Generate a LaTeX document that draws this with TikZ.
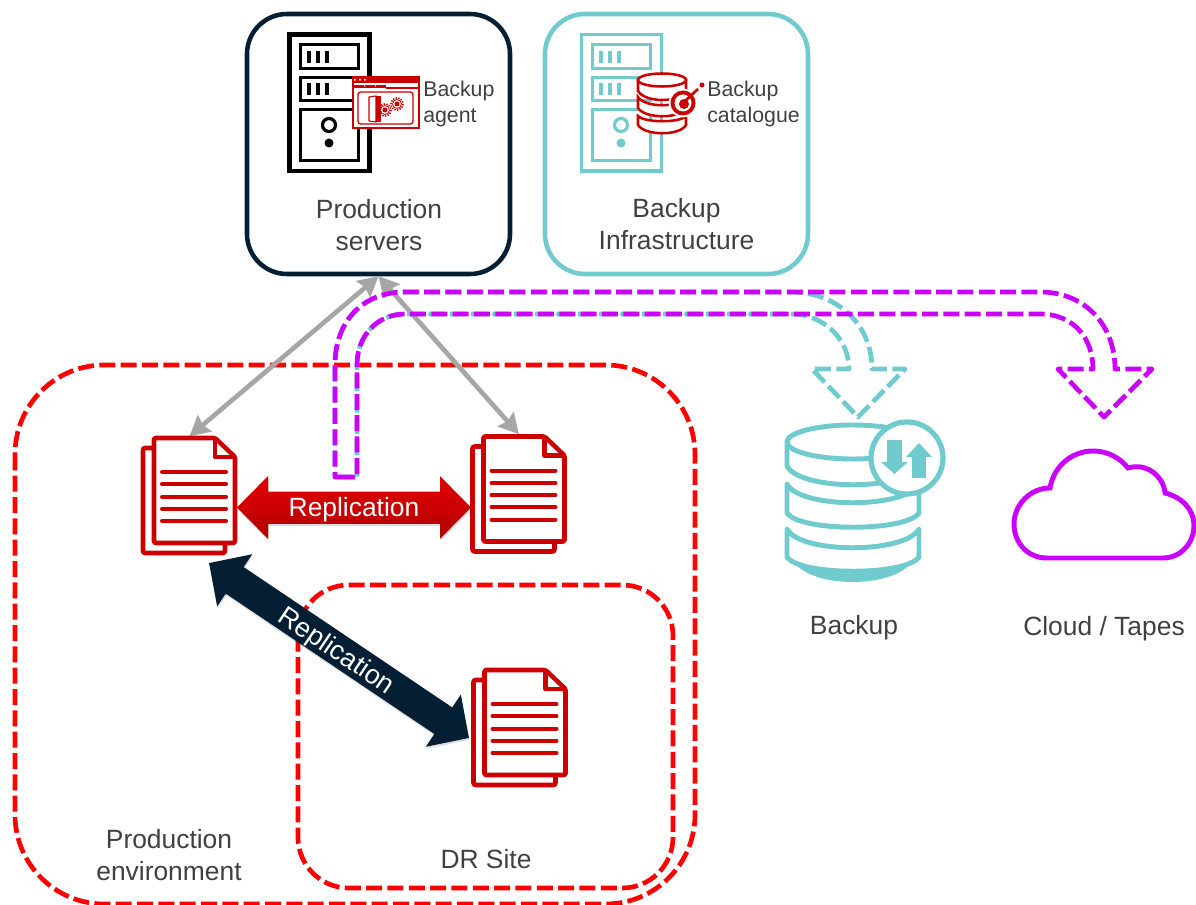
\documentclass[tikz,border=0pt]{standalone}
\usepackage{fontspec}
\setmainfont{Liberation Sans}
\usetikzlibrary{arrows.meta,calc}
\definecolor{navyc}{HTML}{041E33}
\definecolor{tealc}{HTML}{70CBCE}
\definecolor{docred}{HTML}{CC0000}
\definecolor{dashred}{HTML}{FF0000}
\definecolor{purp}{HTML}{CC00FF}
\definecolor{txt}{HTML}{404040}
\definecolor{grayarrow}{HTML}{A6A6A6}
\tikzset{
  bigtext/.style={font=\fontsize{19.8}{24}\selectfont,text=txt,align=center,inner sep=0pt},
  smalltext/.style={font=\fontsize{16}{19.5}\selectfont,text=txt,align=left,inner sep=0pt,anchor=west},
  roundbox/.style={rectangle,rounded corners=30pt,line width=3.4pt,minimum width=197.25pt,minimum height=195pt,inner sep=0pt},
  zone/.style={draw=dashred,line width=3.5pt,dash pattern=on 12pt off 4pt},
  dualarrow/.style={grayarrow,line width=3.5pt,{Stealth[length=15pt,width=16pt,inset=2pt]}-{Stealth[length=15pt,width=16pt,inset=2pt]}},
  hollow/.style={line width=3.5pt,dash pattern=on 12pt off 4pt,line join=round},
  docnode/.style={rectangle,inner sep=0pt,minimum width=71.25pt,minimum height=88.5pt},
  docline/.style={docred,line width=3.4pt,line cap=round,line join=round},
  doctext/.style={docred,line width=3pt,line cap=round},
  blocktips/.style={line width=24pt,{Triangle[length=23.25pt,width=45.75pt]}-{Triangle[length=23.25pt,width=45.75pt]}},
  shadowline/.style={black,opacity=.13},
}
% name, x, y of the front page's top left corner
\newcommand{\docicon}[3]{%
  \begin{scope}[shift={(#2,#3)}]
    \draw[docline,rounded corners=1.5pt] (2,12) -- (-9,12) -- (-9,117) -- (73,117) -- (73,106);
    \draw[docline,fill=white,rounded corners=1pt] (2,2) -- (63,2) -- (83,21) -- (83,107) -- (2,107) -- cycle;
    \draw[docline,line cap=butt] (63,2) -- (63,21) -- (83,21);
    \foreach \yy in {36,48.3,60.7,72.7,85} \draw[doctext] (10,\yy) -- (74,\yy);
  \end{scope}}
% colour, outer line width, x shift
\newcommand{\servericon}[3]{%
  \begin{scope}[shift={(#3,0)},#1]
    \draw[fill=white,line width=#2] (289.5,34.5) rectangle (369.5,171);
    \draw[line width=2.4pt] (300.6,44.6) rectangle (358.4,68.4);
    \draw[line width=2.4pt] (300.6,77.6) rectangle (358.4,100.4);
    \draw[line width=2.4pt] (300.6,109.6) rectangle (358.4,160.4);
    \foreach \xx in {307,316,325} {
      \fill (\xx,51) rectangle ++(4.3,12);
      \fill (\xx,83) rectangle ++(4.3,12);
    }
    \draw[line width=2.4pt] (329,125) circle[radius=6.5];
    \fill (329,143) circle[radius=4.5];
  \end{scope}}
\begin{document}
\begin{tikzpicture}[x=0.75pt,y=-0.75pt]
\useasboundingbox (0,0) rectangle (1196,905);

% top boxes
\node[roundbox,draw=navyc] (prod) at (378.5,144) {};
\node[roundbox,draw=tealc] (infra) at (676.5,144) {};
\servericon{black}{3.5pt}{0}
\servericon{tealc}{2.8pt}{292}

% backup agent window
\node[rectangle,inner sep=0pt,minimum width=50pt,minimum height=38.5pt,fill=white,draw=docred,line width=1.5pt] (agent) at (386,102.5) {};
\fill[docred] (352,76) rectangle (420,83);
\fill[white] (355,79.7) circle[radius=1.1] (360,79.7) circle[radius=1.1] (365,79.7) circle[radius=1.1];
\fill[docred] (354,85) rectangle (386,88);
\fill[white] (364,85) rectangle (365,86.5) (375,85) rectangle (376,86.5);
\draw[docred,line width=.8pt] (386,88) -- (418,88);
\draw[docred,line width=1pt,rounded corners=2pt] (358,92) rectangle (413,124);
\draw[docred,line width=.8pt] (369,97) -- (376,96) -- (376,122) -- (369,121) -- cycle;
\fill[docred] (376,96) rectangle (381,122);
\foreach \gx/\gy in {385/110,397/104} {
  \draw[docred,line width=.6pt] (\gx,\gy) circle[radius=4.5];
  \draw[docred,line width=1.2pt,dash pattern=on 1pt off 1pt] (\gx,\gy) circle[radius=6];
  \fill[docred] (\gx,\gy) circle[radius=2.5];
}

% backup catalogue database
\begin{scope}[docred,line width=1.9pt]
  \draw[fill=white] (638,116) -- (638,125) .. controls (645,136) and (680,136) .. (686,125) -- (686,116) .. controls (680,123) and (645,123) .. (638,116) -- cycle;
  \draw[fill=white] (638,97) -- (638,108) .. controls (645,119) and (680,119) .. (686,108) -- (686,97) .. controls (680,108) and (645,108) .. (638,97) -- cycle;
  \draw[fill=white] (638,80) -- (638,91) .. controls (645,103) and (680,103) .. (686,91) -- (686,80) -- cycle;
  \draw[fill=white] (662,80) ellipse[x radius=24,y radius=6.5];
\end{scope}
\node[circle,fill=white,inner sep=0pt,minimum size=21.5pt] (target) at (683,103) {};
\fill[docred] (target) circle[radius=12.5];
\fill[white] (target) circle[radius=8.5];
\fill[docred] (684,104) circle[radius=5];
\draw[docred,line width=2pt] (target.center) -- (698,89);
\fill[docred] (702,85) circle[radius=2.5];

% box texts
\node[bigtext] (prodlabel) at (379,225) {Production\\servers};
\node[bigtext] (infralabel) at (676.5,224) {Backup\\Infrastructure};
\node[smalltext] (agentlabel) at (423,104) {Backup\\agent};
\node[smalltext] (catlabel) at (707,104) {Backup\\catalogue};

% document nodes and zones
\node[docnode] (docA) at (189.5,495.5) {};
\node[docnode] (docB) at (519,493.5) {};
\node[docnode] (docC) at (520,727) {};
\draw[zone,rounded corners=67pt] (15,365) rectangle (695,904);
\draw[zone,rounded corners=38pt] (298,585) rectangle (673,888);

% grey arrows
\draw[dualarrow] (prod.south) -- (docA.north);
\draw[dualarrow] (prod.south) -- (docB.north);

% backup (teal) and cloud (purple) hollow arrows
\coordinate (backtip) at (858,417);
\coordinate (cloudtip) at (1104,417);
\coordinate (start) at (346,477);
\draw[hollow,tealc]
  (start) -| (335,365)
  .. controls (335,322) and (362,292) .. (405,292)
  -- (790,292) .. controls (838,292) and (872,325) .. (872,369)
  -- (905,369) -- (backtip) -- (812,369) -- (849,369)
  .. controls (849,340) and (825,314) .. (790,314)
  -- (405,314) .. controls (378,314) and (357,335) .. (357,365)
  |- (start);
\draw[hollow,purp]
  (start) -| (335,365)
  .. controls (335,322) and (362,292) .. (405,292)
  -- (1040,292) .. controls (1085,292) and (1115,325) .. (1115,369)
  -- (1152,369) -- (cloudtip) -- (1058,369) -- (1093,369)
  .. controls (1093,340) and (1075,314) .. (1040,314)
  -- (405,314) .. controls (378,314) and (357,335) .. (357,365)
  |- (start);

% documents
\docicon{docAicon}{152}{436}
\docicon{docBicon}{481.5}{434.5}
\docicon{docCicon}{482.5}{668}

% replication arrows
\coordinate (redL) at (237,507.5);
\coordinate (redR) at (471,507.5);
\draw[blocktips,shadowline] ($(redL)+(.5,2)$) -- ($(redR)+(.5,2)$);
\draw[blocktips,docred] (redL) -- (redR);
\shade[top color=red!88!black,bottom color=docred!85!black,middle color=docred]
  (redL) -- ++(31,-30.5) -- ++(0,14.5) -- ($(redR)+(-31,-16)$) -- ++(0,-14.5) -- (redR)
  -- ++(-31,30.5) -- ++(0,-14.5) -- ($(redL)+(31,16)$) -- ++(0,14.5) -- cycle;
\node[font=\fontsize{19.8}{24}\selectfont,text=white,inner sep=0pt] (replabelA) at (354,510) {Replication};

\coordinate (navyL) at (209,563);
\coordinate (navyR) at (469,738);
\draw[blocktips,shadowline] ($(navyL)+(.5,2)$) -- ($(navyR)+(.5,2)$);
\draw[blocktips,navyc] (navyL) -- (navyR);
\node[font=\fontsize{20.2}{24}\selectfont,text=white,inner sep=0pt,rotate=-34] (replabelB) at (336,652) {Replication};

% zone labels
\node[bigtext] (prodenv) at (169,855) {Production\\environment};
\node[bigtext] (drsite) at (486,859) {DR Site};

% backup database
\begin{scope}[tealc,line width=3.7pt,line join=round]
  \fill (792,558) .. controls (805,590) and (900,590) .. (914,558) -- cycle;
  \draw[fill=white] (787,529) -- (787,557) .. controls (800,576) and (906,576) .. (919,557) -- (919,529) .. controls (905,554) and (800,554) .. (787,529) -- cycle;
  \draw[fill=white] (787,484) -- (787,513) .. controls (800,532) and (906,532) .. (919,513) -- (919,484) .. controls (905,509) and (800,509) .. (787,484) -- cycle;
  \draw[fill=white] (787,442) -- (787,466) .. controls (800,491) and (906,491) .. (919,466) -- (919,442) -- cycle;
  \draw[fill=white] (853,442) ellipse[x radius=66,y radius=17];
  \draw[fill=white,line width=3.9pt] (907,458) circle[radius=36];
  \fill (887,440) rectangle (902,462);
  \fill (881,462) -- (908,462) -- (894.5,474) -- cycle;
  \fill (912,478) rectangle (926,457);
  \fill (906,457) -- (932,457) -- (919,443) -- cycle;
\end{scope}

% cloud
\draw[purp,line width=3.7pt,line join=miter]
  (1047,558) .. controls (1026,558) and (1014,541) .. (1014,524)
  .. controls (1014,505) and (1030,488) .. (1050,488)
  .. controls (1054,465) and (1073,451) .. (1093,451)
  .. controls (1108,451) and (1120,458) .. (1128,468)
  .. controls (1148,462) and (1164,478) .. (1165,493)
  .. controls (1182,497) and (1194,510) .. (1194,525)
  .. controls (1194,544) and (1180,558) .. (1163,558)
  -- cycle;

% icon labels
\node[bigtext] (backuplabel) at (854,628) {Backup};
\node[bigtext] (cloudlabel) at (1104,629) {Cloud / Tapes};
\end{tikzpicture}
\end{document}
